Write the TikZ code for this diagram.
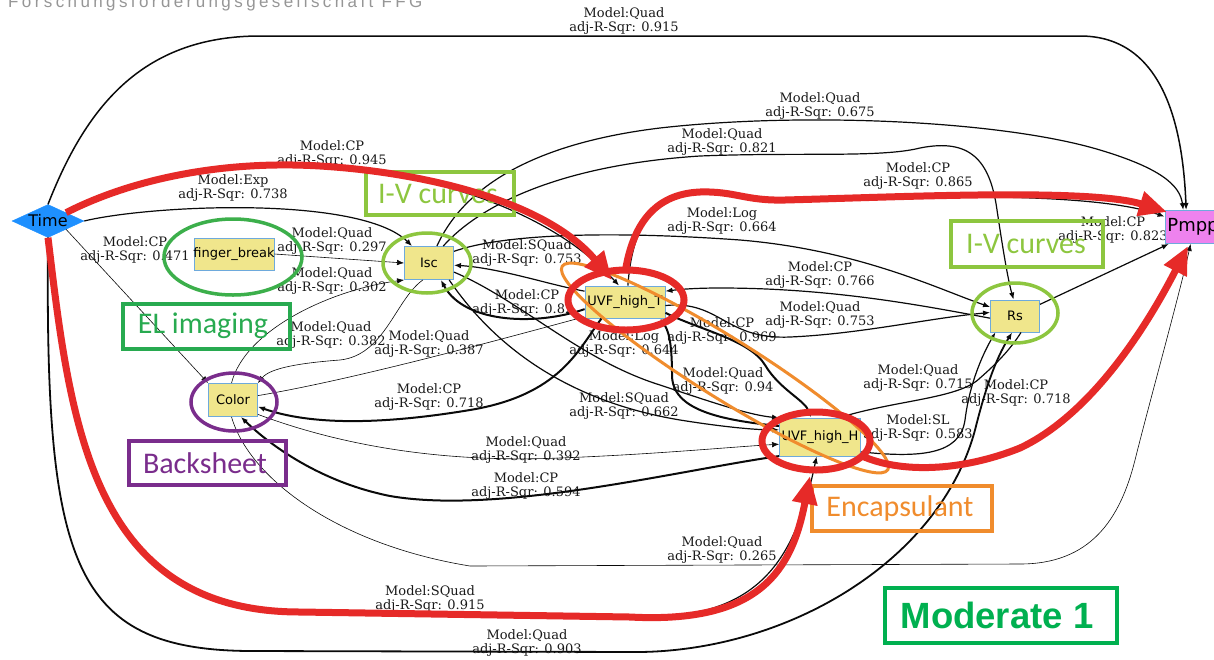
\documentclass[tikz,border=0pt]{standalone}
\usepackage{fontspec}
\setmainfont{DejaVu Serif}
\newfontfamily\nodefont{DejaVu Sans}
\newfontfamily\annfont{Carlito}
\newfontfamily\modfont{Liberation Sans}
\newfontfamily\headfont[LetterSpace=20]{Liberation Sans}
\usetikzlibrary{arrows.meta,shapes.geometric}
\pgfdeclarelayer{bg}
\pgfdeclarelayer{fg}
\pgfsetlayers{bg,main,fg}
\definecolor{khaki}{RGB}{240,230,140}
\definecolor{nodeborder}{RGB}{110,170,220}
\definecolor{timeblue}{RGB}{30,144,255}
\definecolor{pmppviolet}{RGB}{238,130,238}
\definecolor{hlred}{RGB}{230,42,40}
\definecolor{ivgreen}{RGB}{141,198,63}
\definecolor{fgreen}{RGB}{60,175,75}
\definecolor{elgreen}{RGB}{40,170,80}
\definecolor{bspurple}{RGB}{122,45,140}
\definecolor{encorange}{RGB}{240,140,45}
\definecolor{modgreen}{RGB}{0,176,80}
\definecolor{headgray}{RGB}{150,150,150}
\definecolor{edgeblack}{RGB}{10,10,10}
\begin{document}
\begin{tikzpicture}[x=1pt,y=-1pt,
 gnode/.style={draw=nodeborder, line width=0.9pt, fill=khaki, font=\nodefont\fontsize{13}{15}\selectfont, inner sep=0pt, minimum height=32pt},
 lbl/.style={font=\fontsize{13}{14.5}\selectfont, align=center, inner sep=0pt, text=black!90},
 edge/.style={draw=edgeblack, line width=1.2pt, -{Latex[length=7pt,width=5.5pt]}},
 thinedge/.style={edge, line width=0.6pt},
 thickedge/.style={edge, line width=2pt},
 hl/.style={draw=hlred, line width=7pt},
 hlarrow/.style={hl, -{Triangle[length=28pt,width=24pt]}},
 annbox/.style={line width=3.5pt},
 anntext/.style={font=\annfont\fontsize{30}{32}\selectfont, inner sep=0pt},
]
\useasboundingbox (0,0) rectangle (1214,659);

% ---------- background and edge labels
\begin{pgfonlayer}{bg}
\fill[white] (0,0) rectangle (1214,659);
\node[lbl] (l1) at (624,21) {Model:Quad\\adj-R-Sqr: 0.915};
\node[lbl] (l2) at (820,106) {Model:Quad\\adj-R-Sqr: 0.675};
\node[lbl] (l3) at (722,142) {Model:Quad\\adj-R-Sqr: 0.821};
\node[lbl] (l4) at (332,154) {Model:CP\\adj-R-Sqr: 0.945};
\node[lbl] (l5) at (918,176) {Model:CP\\adj-R-Sqr: 0.865};
\node[lbl] (l6) at (233,188) {Model:Exp\\adj-R-Sqr: 0.738};
\node[lbl] (l7) at (722,221) {Model:Log\\adj-R-Sqr: 0.664};
\node[lbl] (l8) at (1113,230) {Model:CP\\adj-R-Sqr: 0.823};
\node[lbl] (l9) at (332,241) {Model:Quad\\adj-R-Sqr: 0.297};
\node[lbl] (l10) at (135,250) {Model:CP\\adj-R-Sqr: 0.471};
\node[lbl] (l11) at (527,253) {Model:SQuad\\adj-R-Sqr: 0.753};
\node[lbl] (l12) at (820,275) {Model:CP\\adj-R-Sqr: 0.766};
\node[lbl] (l13) at (332,281) {Model:Quad\\adj-R-Sqr: 0.302};
\node[lbl] (l14) at (527,303) {Model:CP\\adj-R-Sqr: 0.82\phantom{0}};
\node[lbl] (l15) at (820,315) {Model:Quad\\adj-R-Sqr: 0.753};
\node[lbl] (l16) at (331,335) {Model:Quad\\adj-R-Sqr: 0.382};
\node[lbl] (l17) at (722,331) {Model:CP\\adj-R-Sqr: 0.969};
\node[lbl] (l18) at (624,344) {Model:Log\\adj-R-Sqr: 0.644};
\node[lbl] (l19) at (429,344) {Model:Quad\\adj-R-Sqr: 0.387};
\node[lbl] (l20) at (723,381) {Model:Quad\\adj-R-Sqr: 0.94};
\node[lbl] (l21) at (918,378) {Model:Quad\\adj-R-Sqr: 0.715};
\node[lbl] (l22) at (1016,393) {Model:CP\\adj-R-Sqr: 0.718};
\node[lbl] (l23) at (429,397) {Model:CP\\adj-R-Sqr: 0.718};
\node[lbl] (l24) at (624,406) {Model:SQuad\\adj-R-Sqr: 0.662};
\node[lbl] (l25) at (918,428) {Model:SL\\adj-R-Sqr: 0.583};
\node[lbl] (l26) at (526,450) {Model:Quad\\adj-R-Sqr: 0.392};
\node[lbl] (l27) at (526,486) {Model:CP\\adj-R-Sqr: 0.594};
\node[lbl] (l28) at (722,550) {Model:Quad\\adj-R-Sqr: 0.265};
\node[lbl] (l29) at (430,599) {Model:SQuad\\adj-R-Sqr: 0.915};
\node[lbl] (l30) at (527,643) {Model:Quad\\adj-R-Sqr: 0.903};
\end{pgfonlayer}

\node[anchor=base west, text=headgray, font=\headfont\fontsize{17}{17}\selectfont, inner sep=0pt] (head) at (8,7) {Forschungsförderungsgesellschaft FFG};

% ---------- graph nodes
\node[diamond, fill=timeblue, draw=timeblue, aspect=2.2, minimum width=72pt, minimum height=33pt, inner sep=0pt, font=\nodefont\fontsize{16}{18}\selectfont] (time) at (48,221) {Time};
\node[gnode, minimum width=80pt, inner xsep=-3pt] (finger) at (234,254) {finger\_break};
\node[gnode, minimum width=49pt, minimum height=33pt] (isc) at (429,263) {Isc};
\node[gnode, minimum width=80pt, inner xsep=-2pt] (uvfT) at (625,302) {UVF\_high\_T};
\node[gnode, minimum width=49pt] (rs) at (1015,316) {Rs};
\node[gnode, fill=pmppviolet, minimum width=56pt, minimum height=33pt, font=\nodefont\fontsize{18}{20}\selectfont] (pmpp) at (1193,227) {Pmpp};
\node[gnode, minimum width=81pt, minimum height=38pt] (uvfH) at (820,437) {UVF\_high\_H};
\node[gnode, minimum width=49pt, minimum height=33pt] (color) at (233,400) {Color};

% ---------- edges
\draw[edge, line width=1.5pt] (time.north) .. controls (85,110) and (140,36) .. (260,36) -- (1080,36) .. controls (1165,36) and (1183,130) .. (pmpp.112);
\draw[edge, line width=1.8pt] (time.south) .. controls (45,560) and (70,650) .. (250,651) -- (640,652) .. controls (790,650) and (940,560) .. (975,430) .. controls (985,390) and (995,360) .. (rs.260);
\draw[edge] (time.south) .. controls (70,420) and (90,612) .. (300,612) -- (630,617) .. controls (760,622) and (795,560) .. (uvfH.260);
\draw[edge] (time.east) .. controls (150,205) and (360,195) .. (isc.135);
\draw[edge] (time.north east) .. controls (130,180) and (220,160) .. (320,166) .. controls (420,172) and (545,205) .. (uvfT.110);
\draw[thinedge] (time.south east) -- (color.north west);
\draw[thinedge] (finger.east) -- (isc.west);
\draw[thinedge] (color.95) .. controls (245,330) and (330,290) .. (isc.south west);
\draw[thinedge] (isc.250) .. controls (395,300) and (385,355) .. (340,360) .. controls (300,363) and (270,368) .. (color.north east);
\draw[thinedge] (color.10) .. controls (350,380) and (480,345) .. (uvfT.200);
\draw[thickedge] (uvfT.215) .. controls (578,350) and (560,395) .. (470,410) .. controls (380,425) and (310,425) .. (color.345);
\draw[thinedge] (color.330) .. controls (340,445) and (440,463) .. (560,458) .. controls (660,454) and (730,447) .. (uvfH.190);
\draw[thickedge] (uvfH.205) .. controls (680,470) and (500,515) .. (390,496) .. controls (320,482) and (270,445) .. (color.295);
\draw[edge] (uvfT.165) .. controls (550,285) and (500,268) .. (isc.355);
\draw[thickedge] (uvfT.190) .. controls (540,325) and (465,325) .. (isc.305);
\draw[edge] (isc.320) .. controls (490,340) and (560,400) .. (680,420) .. controls (730,428) and (760,430) .. (uvfH.170);
\draw[edge] (isc.340) .. controls (520,300) and (580,360) .. (660,385) .. controls (720,405) and (750,415) .. (uvfH.155);
\draw[thickedge] (uvfH.165) .. controls (720,420) and (672,410) .. (672,375) .. controls (672,340) and (668,330) .. (uvfT.335);
\draw[thickedge] (uvfT.345) .. controls (700,330) and (750,340) .. (765,365) .. controls (780,390) and (805,400) .. (uvfH.115);
\draw[edge] (isc.65) .. controls (460,195) and (520,145) .. (660,128) .. controls (800,112) and (1000,120) .. (1100,150) .. controls (1160,168) and (1180,185) .. (pmpp.120);
\draw[edge] (isc.50) .. controls (480,205) and (560,165) .. (700,156) .. controls (800,152) and (880,158) .. (920,148) .. controls (970,138) and (990,160) .. (997,210) .. controls (1003,250) and (1008,280) .. (rs.95);
\draw[edge] (isc.25) .. controls (500,235) and (600,230) .. (740,240) .. controls (860,250) and (940,290) .. (rs.160);
\draw[edge] (rs.185) .. controls (920,305) and (830,288) .. (720,288) .. controls (690,288) and (675,290) .. (uvfT.15);
\draw[edge] (uvfT.355) .. controls (720,300) and (725,340) .. (790,337) .. controls (860,334) and (930,318) .. (rs.172);
\draw[edge] (rs.25) -- (pmpp.215);
\draw[edge] (rs.290) .. controls (1010,350) and (995,365) .. (980,378) .. controls (960,398) and (900,400) .. (uvfH.45);
\draw[edge] (uvfH.340) .. controls (920,458) and (960,455) .. (965,420) .. controls (970,380) and (985,350) .. (rs.220);
\draw[edge] (uvfT.80) .. controls (632,228) and (652,194) .. (700,192) .. controls (735,191) and (745,201) .. (785,200) .. controls (900,197) and (1090,190) .. (pmpp.160);
\draw[thinedge] (color.265) .. controls (250,480) and (340,545) .. (470,566) -- (1020,564) .. controls (1090,564) and (1120,520) .. (1135,460) .. controls (1150,400) and (1178,300) .. (pmpp.262);

% ---------- annotations (foreground)
\begin{pgfonlayer}{fg}
\draw[fgreen, annbox] (233,257) ellipse [x radius=69pt, y radius=38pt];
\draw[ivgreen, annbox] (427,263) ellipse [x radius=44pt, y radius=30pt];
\draw[ivgreen, annbox] (1015,313) ellipse [x radius=43pt, y radius=30pt];
\draw[bspurple, annbox] (234,402) ellipse [x radius=43pt, y radius=29pt];
\draw[encorange, line width=3pt, rotate around={-32:(725,368)}] (725,368) ellipse [x radius=192pt, y radius=30pt];

\draw[ivgreen, annbox] (366,172) rectangle (514,215);
\node[anntext, text=ivgreen] (iv1) at (438,194) {I-V curves};
\draw[ivgreen, annbox] (951,221) rectangle (1103,267);
\node[anntext, text=ivgreen] (iv2) at (1026,244) {I-V curves};
\draw[elgreen, annbox] (123,304) rectangle (290,349);
\node[anntext, text=elgreen] (el) at (203,326) {EL imaging};
\draw[bspurple, annbox] (129,441) rectangle (286,485);
\node[anntext, text=bspurple] (bs) at (205,463) {Backsheet};
\draw[encorange, annbox] (812,486) rectangle (992,531);
\node[anntext, text=encorange] (enc) at (900,508) {Encapsulant};
\draw[modgreen, annbox] (885,588) rectangle (1117,643);
\node[font=\modfont\bfseries\fontsize{36.5}{38}\selectfont, text=modgreen, inner sep=0pt] (mod) at (997,615) {Moderate 1};

\draw[hl] (626,300) ellipse [x radius=58pt, y radius=30pt];
\draw[hl] (816,441) ellipse [x radius=54pt, y radius=29pt];
\coordinate (r1tip) at (612,280);
\coordinate (r2start) at (625,273);
\coordinate (r2tip) at (1167,212);
\coordinate (r3tip) at (810,476);
\coordinate (r4start) at (862,456);
\coordinate (r4tip) at (1188,246);
\draw[hlarrow] (time.north east) .. controls (130,180) and (220,160) .. (320,166) .. controls (420,172) and (545,200) .. (r1tip);
\draw[hlarrow] (r2start) .. controls (632,228) and (652,194) .. (700,192) .. controls (735,191) and (745,201) .. (785,200) .. controls (900,197) and (1090,188) .. (r2tip);
\draw[hlarrow] (time.south) .. controls (70,420) and (90,612) .. (300,612) -- (630,617) .. controls (760,624) and (792,570) .. (r3tip);
\draw[hlarrow] (r4start) .. controls (900,473) and (960,472) .. (1020,448) .. controls (1090,415) and (1145,330) .. (r4tip);
\end{pgfonlayer}
\end{tikzpicture}
\end{document}
